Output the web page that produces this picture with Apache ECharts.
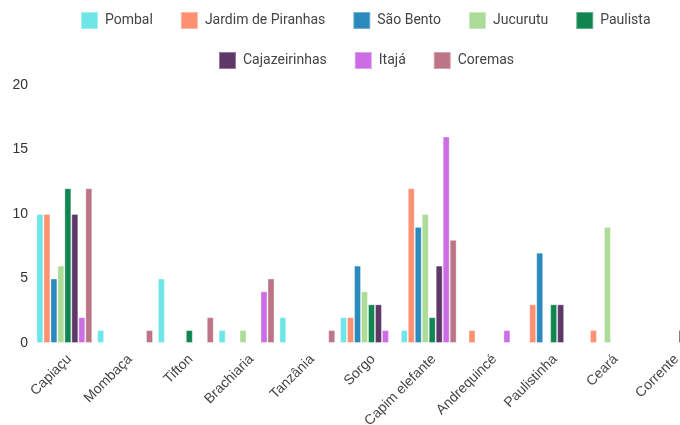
<!DOCTYPE html>
<html>
<head>
<meta charset="utf-8">
<script src="https://cdn.jsdelivr.net/npm/echarts@6/dist/echarts.min.js"></script>
<style>
  html, body { margin: 0; padding: 0; background: #fff; }
  #chart { width: 680px; height: 425px; }
</style>
</head>
<body>
<div id="chart"></div>
<script>
// categorias (capins)
const categorias = ['Capiaçu', 'Mombaça', 'Tifton', 'Brachiaria', 'Tanzânia', 'Sorgo',
  'Capim elefante', 'Andrequincé', 'Paulistinha', 'Ceará', 'Corrente'];

// valores por município
const pombal        = [10, 1, 5, 1, 2, 2, 1, 0, 0, 0, 0];
const jardim        = [10, 0, 0, 0, 0, 2, 12, 1, 3, 1, 0];
const saoBento      = [5, 0, 0, 0, 0, 6, 9, 0, 7, 0, 0];
const jucurutu      = [6, 0, 0, 1, 0, 4, 10, 0, 0, 9, 0];
const paulista      = [12, 0, 1, 0, 0, 3, 2, 0, 3, 0, 0];
const cajazeirinhas = [10, 0, 0, 0, 0, 3, 6, 0, 3, 0, 1];
const itaja         = [2, 0, 0, 4, 0, 1, 16, 1, 0, 0, 0];
const coremas       = [12, 1, 2, 5, 1, 0, 8, 0, 0, 0, 0];

const yTicks = [0, 5, 10, 15, 20];

const municipios = [
  { nome: 'Pombal', dados: pombal, cor: '#6ee6e8' },
  { nome: 'Jardim de Piranhas', dados: jardim, cor: '#ff9070' },
  { nome: 'São Bento', dados: saoBento, cor: '#2b8abd' },
  { nome: 'Jucurutu', dados: jucurutu, cor: '#acdc97' },
  { nome: 'Paulista', dados: paulista, cor: '#10854f' },
  { nome: 'Cajazeirinhas', dados: cajazeirinhas, cor: '#5e3869' },
  { nome: 'Itajá', dados: itaja, cor: '#cc6de6' },
  { nome: 'Coremas', dados: coremas, cor: '#bd7486' }
];

const chart = echarts.init(document.getElementById('chart'));

// legenda em duas linhas centradas
const legendaBase = {
  orient: 'horizontal',
  padding: 0,
  itemWidth: 17,
  itemHeight: 17,
  itemGap: 27,
  icon: 'rect',
  textStyle: { fontFamily: 'Roboto', fontSize: 14, color: '#444', padding: [0, 0, 0, 2] }
};

chart.setOption({
  animation: false,
  legend: [
    Object.assign({}, legendaBase, { top: 11, left: 80, data: municipios.slice(0, 5).map(m => m.nome) }),
    Object.assign({}, legendaBase, { top: 51, left: 218, data: municipios.slice(5).map(m => m.nome) })
  ],
  grid: { left: 34, top: 85, width: 668, bottom: 82, outerBoundsMode: 'none' },
  xAxis: {
    type: 'category',
    data: categorias,
    axisLine: { show: false },
    axisTick: { show: false },
    axisLabel: {
      rotate: 45, interval: 0, margin: 9, verticalAlign: 'top',
      fontFamily: 'Liberation Sans', fontSize: 14, color: '#444'
    }
  },
  yAxis: {
    type: 'value',
    min: yTicks[0],
    max: yTicks[yTicks.length - 1],
    interval: 5,
    splitLine: { show: false },
    axisLine: { show: false },
    axisTick: { show: false },
    axisLabel: { margin: 6, fontFamily: 'Liberation Sans', fontSize: 14, color: '#333' }
  },
  series: municipios.map(m => ({
    name: m.nome,
    type: 'bar',
    barGap: '0%',
    barCategoryGap: '8%',
    data: m.dados.map(v => (v === 0 ? null : v)),
    itemStyle: { color: m.cor, borderColor: 'rgba(255,255,255,0.35)', borderWidth: 1 }
  }))
});
</script>
</body>
</html>
